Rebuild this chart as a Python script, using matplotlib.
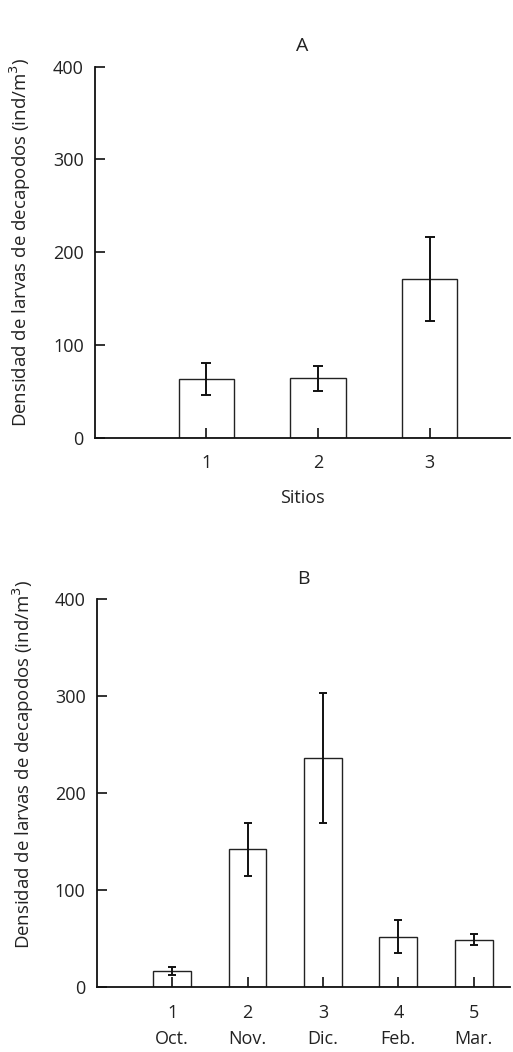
import numpy as np
from matplotlib import pyplot as plt

plt.rcParams['font.family'] = ['Open Sans', 'DejaVu Sans']

# panel A
sitios = ["1", "2", "3"]
dens_a = [63, 64, 171]
err_a = [17, 13.5, 45]

# panel B
meses = ["1\nOct.", "2\nNov.", "3\nDic.", "4\nFeb.", "5\nMar."]
dens_b = [17, 142, 236, 52, 49]
err_b = [4.4, 27.5, 67, 17, 5.5]

ylabel = "Densidad de larvas de decapodos (ind/m$^3$)"
fs = 13

fig = plt.figure(figsize=(5.13, 10.52), dpi=100)
ax1 = fig.add_axes([0.185, 0.584, 0.809, 0.3526])
ax2 = fig.add_axes([0.1885, 0.0615, 0.8055, 0.3691])


def panel(ax, labels, vals, errs, xmax, cap, ly):
    x = np.arange(1, len(vals) + 1)
    ax.bar(x, vals, width=0.5, color='white', edgecolor='#222222', linewidth=1.0)
    ax.errorbar(x, vals, yerr=errs, fmt='none', ecolor='#111111',
                elinewidth=1.4, capsize=cap, capthick=1.4)
    ax.set_xlim(0, xmax)
    ax.set_ylim(0, 400)
    ax.set_yticks([0, 100, 200, 300, 400])
    ax.set_xticks(x)
    ax.set_xticklabels(labels)
    for s in ['top', 'right']:
        ax.spines[s].set_visible(False)
    for s in ['left', 'bottom']:
        ax.spines[s].set_linewidth(1.3)
        ax.spines[s].set_color('#111111')
    ax.tick_params(direction='in', length=7, width=1.3, labelsize=fs,
                   colors='#222222')
    ax.tick_params(axis='y', pad=8)
    ax.tick_params(axis='x', pad=12)
    ax.set_ylabel(ylabel, fontsize=13.4, color='#222222')
    ax.yaxis.set_label_coords(-0.148, ly)


panel(ax1, sitios, dens_a, err_a, 3.72, 3.8, 0.527)
ax1.set_xlabel("Sitios", fontsize=fs, labelpad=12, color='#222222')
ax1.set_title("A", fontsize=fs + 1, pad=11, color='#222222')

panel(ax2, meses, dens_b, err_b, 5.48, 3.2, 0.575)
ax2.set_title("B", fontsize=fs + 1, pad=11, color='#222222')
for t in ax2.get_xticklabels():
    t.set_linespacing(1.55)

fig.savefig("out.png", dpi=100)
